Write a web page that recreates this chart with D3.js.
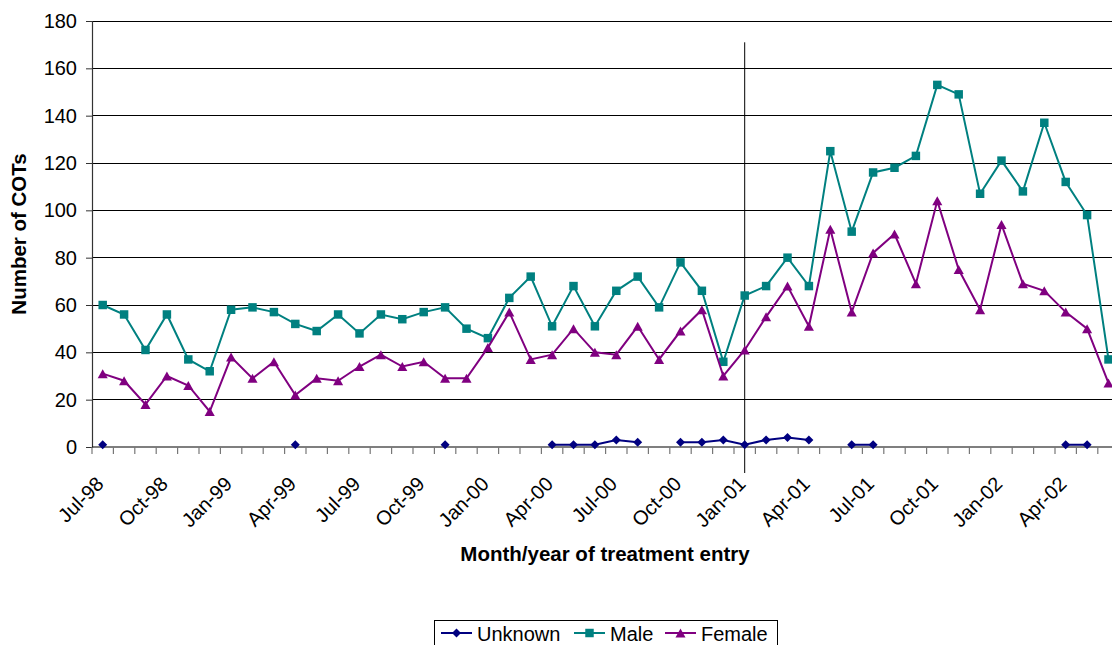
<!DOCTYPE html>
<html>
<head>
<meta charset="utf-8">
<script src="https://cdn.jsdelivr.net/npm/d3@7"></script>
<style>
  html, body { margin: 0; padding: 0; background: #fff; }
  svg { display: block; font-family: "Liberation Sans", Arial, sans-serif; }
</style>
</head>
<body>
<svg id="chart" width="1112" height="645"></svg>
<script>
// Monthly counts of COTs by gender, Jul-98 to Jun-02
const months = [
  "Jul-98","Aug-98","Sep-98","Oct-98","Nov-98","Dec-98",
  "Jan-99","Feb-99","Mar-99","Apr-99","May-99","Jun-99",
  "Jul-99","Aug-99","Sep-99","Oct-99","Nov-99","Dec-99",
  "Jan-00","Feb-00","Mar-00","Apr-00","May-00","Jun-00",
  "Jul-00","Aug-00","Sep-00","Oct-00","Nov-00","Dec-00",
  "Jan-01","Feb-01","Mar-01","Apr-01","May-01","Jun-01",
  "Jul-01","Aug-01","Sep-01","Oct-01","Nov-01","Dec-01",
  "Jan-02","Feb-02","Mar-02","Apr-02","May-02","Jun-02"
];
const tickLabels = ["Jul-98","Oct-98","Jan-99","Apr-99","Jul-99","Oct-99","Jan-00","Apr-00",
                    "Jul-00","Oct-00","Jan-01","Apr-01","Jul-01","Oct-01","Jan-02","Apr-02"];
const yTicks = [0, 20, 40, 60, 80, 100, 120, 140, 160, 180];

const unknown = [1,null,null,null,null,null,null,null,null,1,null,null,
                 null,null,null,null,1,null,null,null,null,1,1,1,
                 3,2,null,2,2,3,1,3,4,3,null,1,
                 1,null,null,null,null,null,null,null,null,1,1,null];
const male = [60,56,41,56,37,32,58,59,57,52,49,56,
              48,56,54,57,59,50,46,63,72,51,68,51,
              66,72,59,78,66,36,64,68,80,68,125,91,
              116,118,123,153,149,107,121,108,137,112,98,37];
const female = [31,28,18,30,26,15,38,29,36,22,29,28,
                34,39,34,36,29,29,42,57,37,39,50,40,
                39,51,37,49,58,30,41,55,68,51,92,57,
                82,90,69,104,75,58,94,69,66,57,50,27];

// Marker shapes centred on their bounding box
const diamondShape = {
  draw(ctx, size) {
    const r = Math.sqrt(size) / 2;
    ctx.moveTo(0, -r); ctx.lineTo(r, 0); ctx.lineTo(0, r); ctx.lineTo(-r, 0); ctx.closePath();
  }
};
const squareShape = {
  draw(ctx, size) {
    const r = Math.sqrt(size) / 2;
    ctx.rect(-r, -r, 2 * r, 2 * r);
  }
};
const triangleShape = {
  draw(ctx, size) {
    const s = Math.sqrt(size);
    ctx.moveTo(0, -s / 2); ctx.lineTo(s * 0.56, s / 2); ctx.lineTo(-s * 0.56, s / 2); ctx.closePath();
  }
};

const seriesNames = ["Unknown", "Male", "Female"];
const seriesColors = ["#000080", "#008080", "#800080"];
const seriesShapes = [diamondShape, squareShape, triangleShape];
const seriesValues = [unknown, male, female];
const markerSize = [81, 72, 81];

// Event marker at the start of 2001
const eventMonth = "Jan-01";

const svg = d3.select("#chart");
const plotLeft = 92, plotTop = 21, plotBottom = 447;
const bandW = 21.4;
const plotRight = plotLeft + bandW * months.length;

const x = d3.scaleBand().domain(months).range([plotLeft, plotRight]).padding(0);
const y = d3.scaleLinear().domain([0, 180]).range([plotBottom, plotTop]);
const cx = m => x(m) + x.bandwidth() / 2;

// horizontal gridlines
svg.append("g").selectAll("line").data(yTicks.slice(1)).join("line")
  .attr("x1", plotLeft).attr("x2", plotRight)
  .attr("y1", d => y(d)).attr("y2", d => y(d))
  .attr("stroke", "#000").attr("stroke-width", 1).attr("shape-rendering", "crispEdges");

// y axis
const yAxis = d3.axisLeft(y).tickValues(yTicks).tickSize(6).tickPadding(9);
const gy = svg.append("g").attr("transform", `translate(${plotLeft},0)`).call(yAxis);
gy.select(".domain").attr("stroke", "#333").attr("stroke-width", 1.2);
gy.selectAll(".tick line").attr("stroke", "#333");
gy.selectAll(".tick text").attr("font-size", 20).attr("fill", "#000")
  .attr("font-family", "'Liberation Sans', Arial, sans-serif");

// x axis: tick marks sit on month boundaries
const edges = d3.range(months.length + 1).map(i => plotLeft + i * bandW);
svg.append("line").attr("x1", plotLeft).attr("x2", plotRight)
  .attr("y1", plotBottom).attr("y2", plotBottom).attr("stroke", "#000").attr("stroke-width", 1.2);
svg.append("g").selectAll("line").data(edges).join("line")
  .attr("x1", d => d).attr("x2", d => d).attr("y1", plotBottom).attr("y2", plotBottom + 7)
  .attr("stroke", "#777").attr("stroke-width", 1.2);

svg.append("g").selectAll("text").data(tickLabels).join("text")
  .attr("transform", d => `translate(${cx(d) - 8},${plotBottom + 28}) rotate(-45)`)
  .attr("text-anchor", "end")
  .attr("dy", "0.72em")
  .attr("font-size", 20)
  .text(d => d);

// vertical marker line
svg.append("line")
  .attr("x1", cx(eventMonth)).attr("x2", cx(eventMonth))
  .attr("y1", y(171)).attr("y2", plotBottom + 26)
  .attr("stroke", "#000").attr("stroke-width", 1);

// series lines and markers
seriesValues.forEach((vals, si) => {
  const pts = months.map((m, i) => ({ m, v: vals[i] }));
  const line = d3.line().defined(d => d.v != null).x(d => cx(d.m)).y(d => y(d.v));
  svg.append("path").datum(pts).attr("d", line)
    .attr("fill", "none").attr("stroke", seriesColors[si]).attr("stroke-width", 2);
  const sym = d3.symbol().type(seriesShapes[si]).size(markerSize[si]);
  svg.append("g").selectAll("path").data(pts.filter(d => d.v != null)).join("path")
    .attr("d", sym)
    .attr("transform", d => `translate(${cx(d.m)},${y(d.v)})`)
    .attr("fill", seriesColors[si]);
});

// axis titles
svg.append("text")
  .attr("x", 605).attr("y", 561)
  .attr("text-anchor", "middle").attr("font-weight", "bold").attr("font-size", 20.5)
  .text("Month/year of treatment entry");
svg.append("text")
  .attr("transform", `translate(26,234) rotate(-90)`)
  .attr("text-anchor", "middle").attr("font-weight", "bold").attr("font-size", 20.5)
  .text("Number of COTs");

// legend
const lg = svg.append("g");
lg.append("rect").attr("x", 434.5).attr("y", 620.5).attr("width", 343).attr("height", 40)
  .attr("fill", "#fff").attr("stroke", "#000").attr("stroke-width", 1);
const legendX = [441, 574, 665];
seriesNames.forEach((name, si) => {
  const gx = legendX[si];
  lg.append("line").attr("x1", gx).attr("x2", gx + 31).attr("y1", 633).attr("y2", 633)
    .attr("stroke", seriesColors[si]).attr("stroke-width", 2);
  lg.append("path").attr("d", d3.symbol().type(seriesShapes[si]).size(markerSize[si])())
    .attr("transform", `translate(${gx + 15.5},633)`)
    .attr("fill", seriesColors[si]);
  lg.append("text").attr("x", gx + 36).attr("y", 640.5).attr("font-size", 20).text(name);
});
</script>
</body>
</html>
